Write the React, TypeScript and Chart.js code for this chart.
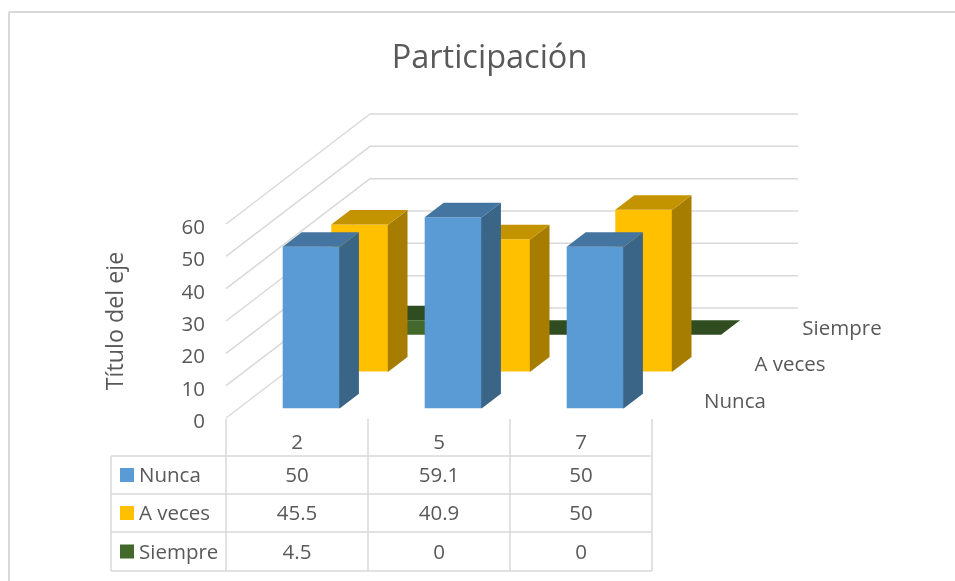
import React, { useEffect, useRef } from "react";
import { Chart, registerables } from "chart.js";

Chart.register(...registerables);

const categories = ["2", "5", "7"];
const seriesNames = ["Nunca", "A veces", "Siempre"];
const nunca = [50, 59.1, 50];
const aVeces = [45.5, 40.9, 50];
const siempre = [4.5, 0, 0];
const chartTitle = "Participación";
const axisTitle = "Título del eje";

const FONT = '"Open Sans", sans-serif';
const TEXT = "#595959";
const LINE = "#d9d9d9";
const frontColors = ["#5b9bd5", "#ffc000", "#43682b"];
const sideColors = ["#3a6587", "#a67d00", "#2f4a1e"];
const topColors = ["#4475a0", "#c49300", "#2f4d20"];

const START = { x: 14.3, y: -9.7 };
const STEP = { x: 48.6, y: -36.8 };
const BAR_DEPTH = { x: 19, y: -14.5 };
const WALL = { x: 144, y: -110 };
const WALL_RIGHT = 798;
const SEAM = 0.7;
const labelPos = [
  { x: 735, y: 402 },
  { x: 790, y: 365 },
  { x: 842, y: 329 },
];
const rowLines = [456, 494, 532, 571];

const poly = (ctx: CanvasRenderingContext2D, pts: number[][], fill: string) => {
  ctx.fillStyle = fill;
  ctx.beginPath();
  pts.forEach(([x, y], i) => (i ? ctx.lineTo(x, y) : ctx.moveTo(x, y)));
  ctx.closePath();
  ctx.fill();
};

const line = (ctx: CanvasRenderingContext2D, x1: number, y1: number, x2: number, y2: number) => {
  ctx.beginPath();
  ctx.moveTo(x1, y1);
  ctx.lineTo(x2, y2);
  ctx.stroke();
};

const box3d = {
  id: "box3d",
  beforeDatasetsDraw(chart: any) {
    const { ctx, scales } = chart;
    const { x: xs, y: ys } = scales;
    ctx.save();
    ctx.strokeStyle = LINE;
    ctx.lineWidth = 2;
    line(ctx, 9, 12, chart.width, 12);
    line(ctx, 9, 12, 9, chart.height);
    ctx.lineWidth = 1.5;
    ys.ticks.forEach((t: any) => {
      const y = ys.getPixelForValue(t.value);
      const bx = xs.left + WALL.x;
      const by = y + WALL.y;
      line(ctx, xs.left, y, bx, by);
      line(ctx, bx, by, WALL_RIGHT, by);
    });
    ctx.restore();
  },
  beforeDatasetDraw(chart: any, args: any) {
    const i = args.index;
    chart.ctx.save();
    chart.ctx.translate(START.x + STEP.x * i, START.y + STEP.y * i);
  },
  afterDatasetDraw(chart: any, args: any) {
    const i = args.index;
    const { ctx } = chart;
    args.meta.data.forEach((bar: any) => {
      const { x, y, base, width } = bar.getProps(["x", "y", "base", "width"], true);
      const l = x - width / 2;
      const r = x + width / 2;
      if (base - y > 1) {
        // side face overlaps the front a little so no seam shows through
        poly(
          ctx,
          [
            [r - SEAM, y],
            [r, y],
            [r + BAR_DEPTH.x, y + BAR_DEPTH.y],
            [r + BAR_DEPTH.x, base + BAR_DEPTH.y],
            [r, base],
            [r - SEAM, base],
          ],
          sideColors[i]
        );
      }
      poly(
        ctx,
        [
          [l, y],
          [r, y],
          [r + BAR_DEPTH.x, y + BAR_DEPTH.y],
          [l + BAR_DEPTH.x, y + BAR_DEPTH.y],
        ],
        topColors[i]
      );
    });
    ctx.restore();
  },
  afterDraw(chart: any) {
    const { ctx, scales } = chart;
    const xs = scales.x;
    const ys = scales.y;
    const stepX = (xs.right - xs.left) / categories.length;
    ctx.save();
    ctx.strokeStyle = LINE;
    ctx.lineWidth = 1.5;
    const tableLeft = 111;
    rowLines.forEach((y) => line(ctx, tableLeft, y, xs.right, y));
    line(ctx, tableLeft, rowLines[0], tableLeft, rowLines[3]);
    for (let c = 0; c <= categories.length; c++) {
      line(ctx, xs.left + c * stepX, ys.bottom + 1, xs.left + c * stepX, rowLines[3]);
    }
    ctx.font = `20.5px ${FONT}`;
    ctx.textBaseline = "middle";
    chart.data.datasets.forEach((ds: any, r: number) => {
      const cy = (rowLines[r] + rowLines[r + 1]) / 2;
      ctx.fillStyle = frontColors[r];
      ctx.fillRect(120, cy - 7, 14, 14);
      ctx.fillStyle = TEXT;
      ctx.textAlign = "left";
      ctx.fillText(ds.label, 139, cy + 1.5);
      ctx.textAlign = "center";
      ds.data.forEach((v: number, c: number) => {
        ctx.fillText(String(v), xs.getPixelForTick(c), cy + 1.5);
      });
      ctx.fillText(ds.label, labelPos[r].x, labelPos[r].y);
    });
    ctx.restore();
  },
};

export default function App() {
  const ref = useRef<HTMLCanvasElement>(null);
  useEffect(() => {
    const chart = new Chart(ref.current!, {
      type: "bar",
      plugins: [box3d as any],
      data: {
        labels: categories,
        datasets: [nunca, aVeces, siempre].map((data, i) => ({
          label: seriesNames[i],
          data,
          backgroundColor: frontColors[i],
          borderWidth: 0,
          grouped: false,
          clip: false,
          barPercentage: 0.403,
          categoryPercentage: 1,
        })),
      },
      options: {
        responsive: false,
        animation: false,
        layout: { autoPadding: false, padding: 0 },
        plugins: {
          legend: { display: false },
          tooltip: { enabled: false },
          title: {
            display: true,
            text: chartTitle,
            color: TEXT,
            font: { family: FONT, size: 32.5, weight: "normal", lineHeight: 1.2 },
            padding: { top: 39, bottom: 146 },
          },
        },
        scales: {
          x: {
            afterFit: (s: any) => {
              s.height = 163;
            },
            grid: { display: false, drawTicks: false },
            border: { display: false },
            ticks: { color: TEXT, font: { family: FONT, size: 20.5 }, padding: 13, maxRotation: 0 },
          },
          y: {
            min: 0,
            max: 60,
            afterFit: (s: any) => {
              s.width = 226;
            },
            grid: { display: false, drawTicks: false },
            border: { display: false },
            ticks: { stepSize: 10, color: TEXT, font: { family: FONT, size: 20.5 }, padding: 21, labelOffset: 4 },
            title: {
              display: true,
              text: axisTitle,
              color: TEXT,
              font: { family: FONT, size: 23.3, weight: "normal" },
              padding: { top: 102, bottom: 0 },
            },
          },
          side: {
            position: "right",
            afterFit: (s: any) => {
              s.width = 327;
            },
            grid: { display: false, drawTicks: false },
            border: { display: false },
            ticks: { display: false },
          },
        },
      } as any,
    });
    return () => chart.destroy();
  }, []);
  return (
    <div style={{ position: "fixed", left: 0, top: 0, width: 955, height: 581, overflow: "hidden", background: "#fff" }}>
      <canvas ref={ref} width={979} height={581} style={{ display: "block" }} />
    </div>
  );
}
